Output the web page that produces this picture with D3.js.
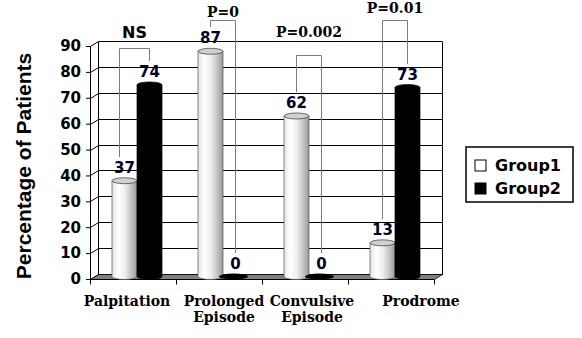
<!DOCTYPE html>
<html>
<head>
<meta charset="utf-8">
<script src="https://cdn.jsdelivr.net/npm/d3@7"></script>
<style>
  body { margin: 0; background: #fff; }
  svg { display: block; }
</style>
</head>
<body>
<div id="chart"></div>
<script>
// 3D cylinder bar chart: percentage of patients per symptom, two groups

const categories = ['Palpitation', 'Prolonged Episode', 'Convulsive Episode', 'Prodrome'];
const categoryLines = [['Palpitation'], ['Prolonged', 'Episode'], ['Convulsive', 'Episode'], ['Prodrome']];
const groups = ['Group1', 'Group2'];
const group1 = [37, 87, 62, 13];
const group2 = [74, 0, 0, 73];
const yTicks = [0, 10, 20, 30, 40, 50, 60, 70, 80, 90];

// significance brackets (heights in axis units)
const pLabels = ['NS', 'P=0', 'P=0.002', 'P=0.01'];
const bracketTops = [89.2, 100, 86.5, 100];
const pLabelLevels = [93.2, 101.3, 93.6, 102.6];

const W = 582, H = 338;
const depth = {dx: 8, dy: 5};
const labelNudge = [-6, 5, 7, 30];
const px = v => Math.round(v) + 0.5;   // crisp 1px lines

const svg = d3.select('#chart').append('svg')
    .attr('width', W)
    .attr('height', H);

const defs = svg.append('defs');
const grad = defs.append('linearGradient')
    .attr('id', 'cyl1')
    .attr('x1', '0%').attr('x2', '100%');
[['0%', '#e4e4e4'], ['25%', '#ffffff'], ['50%', '#f0f0f0'], ['75%', '#c8c8c8'], ['100%', '#9a9a9a']]
    .forEach(([o, c]) => grad.append('stop').attr('offset', o).attr('stop-color', c));

// scales
const x = d3.scaleBand()
    .domain(categories)
    .range([90, 434])
    .padding(0);

const xInner = d3.scaleBand()
    .domain(groups)
    .range([0, x.bandwidth()])
    .paddingInner(0)
    .paddingOuter(0.72);

const y = d3.scaleLinear()
    .domain([0, 90])
    .range([279, 46]);

const x0 = x.range()[0], x1 = x.range()[1];

// left wall + back wall gridlines
const grid = svg.append('g');
yTicks.forEach(t => {
    grid.append('polyline')
        .attr('points', `${px(x0)},${px(y(t))} ${px(x0 + depth.dx)},${px(y(t) - depth.dy)} ${px(x1 + depth.dx)},${px(y(t) - depth.dy)}`)
        .attr('fill', 'none')
        .attr('stroke', '#000')
        .attr('stroke-width', 1);
});
// back wall edges
[x0 + depth.dx, x1 + depth.dx].forEach(xx => {
    grid.append('line')
        .attr('x1', px(xx)).attr('x2', px(xx))
        .attr('y1', px(y(90) - depth.dy)).attr('y2', px(y(0) - depth.dy))
        .attr('stroke', '#000')
        .attr('shape-rendering', 'crispEdges');
});

// floor
svg.append('polygon')
    .attr('points', [
        [x0, y(0)], [x1, y(0)], [x1 + depth.dx, y(0) - depth.dy], [x0 + depth.dx, y(0) - depth.dy]
    ].map(p => p.map(px).join(',')).join(' '))
    .attr('fill', '#808080')
    .attr('stroke', '#000')
    .attr('stroke-width', 0.8);

// y axis
const yAxis = d3.axisLeft(y)
    .tickValues(yTicks)
    .tickSize(4)
    .tickPadding(5);

const yg = svg.append('g')
    .attr('transform', `translate(${x0},0)`)
    .call(yAxis);
yg.select('.domain').attr('stroke', '#000');
yg.selectAll('.tick line').attr('stroke', '#000');
yg.selectAll('.tick text')
    .attr('fill', '#000')
    .style('font-family', '"DejaVu Sans", sans-serif')
    .style('font-weight', 'bold')
    .style('font-size', '15px');

// x axis
const xg = svg.append('g')
    .attr('transform', `translate(0,${px(y(0))})`);
xg.append('line')
    .attr('x1', x0).attr('x2', x1)
    .attr('stroke', '#000');
xg.selectAll('.xtick')
    .data(d3.range(categories.length + 1))
    .enter()
    .append('line')
    .attr('x1', i => px(x0 + i * x.step()))
    .attr('x2', i => px(x0 + i * x.step()))
    .attr('y1', 0).attr('y2', 5)
    .attr('stroke', '#000');

const xl = svg.append('g')
    .selectAll('text')
    .data(categories)
    .enter()
    .append('text')
    .attr('x', (d, i) => x(d) + x.bandwidth() / 2 + labelNudge[i])
    .attr('y', 306)
    .attr('text-anchor', 'middle')
    .style('font-family', '"DejaVu Serif", serif')
    .style('font-weight', 'bold')
    .style('font-size', '14px')
    .attr('fill', '#000');
xl.selectAll('tspan')
    .data((d, i) => categoryLines[i].map(t => ({t, i})))
    .enter()
    .append('tspan')
    .attr('x', d => x(categories[d.i]) + x.bandwidth() / 2 + labelNudge[d.i])
    .attr('dy', (d, j) => j === 0 ? 0 : 16)
    .text(d => d.t);

// bars
const barData = categories.flatMap((c, i) => [
    {cat: c, group: 'Group1', value: group1[i], i},
    {cat: c, group: 'Group2', value: group2[i], i}
]);

const bw = xInner.bandwidth();
const ry = 3;

const bars = svg.append('g')
    .selectAll('.bar')
    .data(barData)
    .enter()
    .append('g')
    .attr('class', 'bar')
    .attr('transform', d => `translate(${x(d.cat) + xInner(d.group) + depth.dx / 2},${-depth.dy / 2})`);

bars.each(function(d) {
    const g = d3.select(this);
    const rx = bw / 2;
    const yb = y(0), yt = y(d.value);
    const dark = d.group === 'Group2';
    if (d.value === 0) {
        g.append('ellipse')
            .attr('cx', rx - 2).attr('cy', yb)
            .attr('rx', rx + 2).attr('ry', ry)
            .attr('fill', '#000');
        return;
    }
    g.append('path')
        .attr('d', `M0,${yt} L0,${yb} A${rx},${ry} 0 0 0 ${bw},${yb} L${bw},${yt} Z`)
        .attr('fill', dark ? '#000' : 'url(#cyl1)')
        .attr('stroke', dark ? '#000' : '#555')
        .attr('stroke-width', 0.7);
    g.append('ellipse')
        .attr('cx', rx).attr('cy', yt)
        .attr('rx', rx).attr('ry', ry)
        .attr('fill', dark ? '#000' : '#cfcfcf')
        .attr('stroke', dark ? '#000' : '#333')
        .attr('stroke-width', 0.7);
});

// value labels
const barCenter = d => x(d.cat) + xInner(d.group) + depth.dx / 2 + bw / 2;
const labelBase = d => y(d.value) - depth.dy / 2 - 8;

// significance brackets (under the value labels)
const brackets = svg.append('g').attr('class', 'brackets');
categories.forEach((c, i) => {
    const a = barData[i * 2], b = barData[i * 2 + 1];
    const xa = px(barCenter(a) - (i === 0 ? 6 : 1)), xb = px(barCenter(b) - 1);
    const yTop = px(y(bracketTops[i]));
    const endA = Math.round(labelBase(a) - 16), endB = Math.round(labelBase(b) - 16);
    brackets.append('path')
        .attr('d', `M${xa},${endA} V${yTop} H${xb} V${endB}`)
        .attr('fill', 'none')
        .attr('stroke', '#7a7a7a')
        .attr('stroke-width', 1);
    brackets.append('text')
        .attr('x', (xa + xb) / 2)
        .attr('y', y(pLabelLevels[i]))
        .attr('text-anchor', 'middle')
        .style('font-family', i === 0 ? '"DejaVu Sans", sans-serif' : '"DejaVu Serif", serif')
        .style('font-weight', 'bold')
        .style('font-size', i === 0 ? '16px' : '14px')
        .attr('fill', '#000')
        .text(pLabels[i]);
});

svg.append('g')
    .selectAll('text')
    .data(barData)
    .enter()
    .append('text')
    .attr('x', barCenter)
    .attr('y', labelBase)
    .attr('text-anchor', 'middle')
    .style('font-family', '"DejaVu Sans", sans-serif')
    .style('font-weight', 'bold')
    .style('font-size', '15px')
    .attr('fill', '#00002e')
    .text(d => d.value);

// y axis title
svg.append('text')
    .attr('transform', `translate(31,${(52 + 280) / 2}) rotate(-90)`)
    .attr('text-anchor', 'middle')
    .style('font-family', '"Liberation Sans", Arial, sans-serif')
    .style('font-weight', 'bold')
    .style('font-size', '21px')
    .attr('fill', '#000')
    .text('Percentage of Patients');

// legend
const legend = svg.append('g').attr('transform', 'translate(466,147)');
legend.append('rect')
    .attr('width', 107).attr('height', 55)
    .attr('fill', '#fff')
    .attr('stroke', '#000')
    .attr('stroke-width', 1.5);
groups.forEach((gname, i) => {
    const row = legend.append('g').attr('transform', `translate(9,${13 + i * 23})`);
    row.append('rect')
        .attr('width', 11).attr('height', 11)
        .attr('fill', i === 0 ? '#fff' : '#000')
        .attr('stroke', '#000');
    row.append('text')
        .attr('x', 20).attr('y', 10.5)
        .style('font-family', '"DejaVu Sans", sans-serif')
        .style('font-weight', 'bold')
        .style('font-size', '16px')
        .attr('fill', '#000')
        .text(gname);
});
</script>
</body>
</html>
